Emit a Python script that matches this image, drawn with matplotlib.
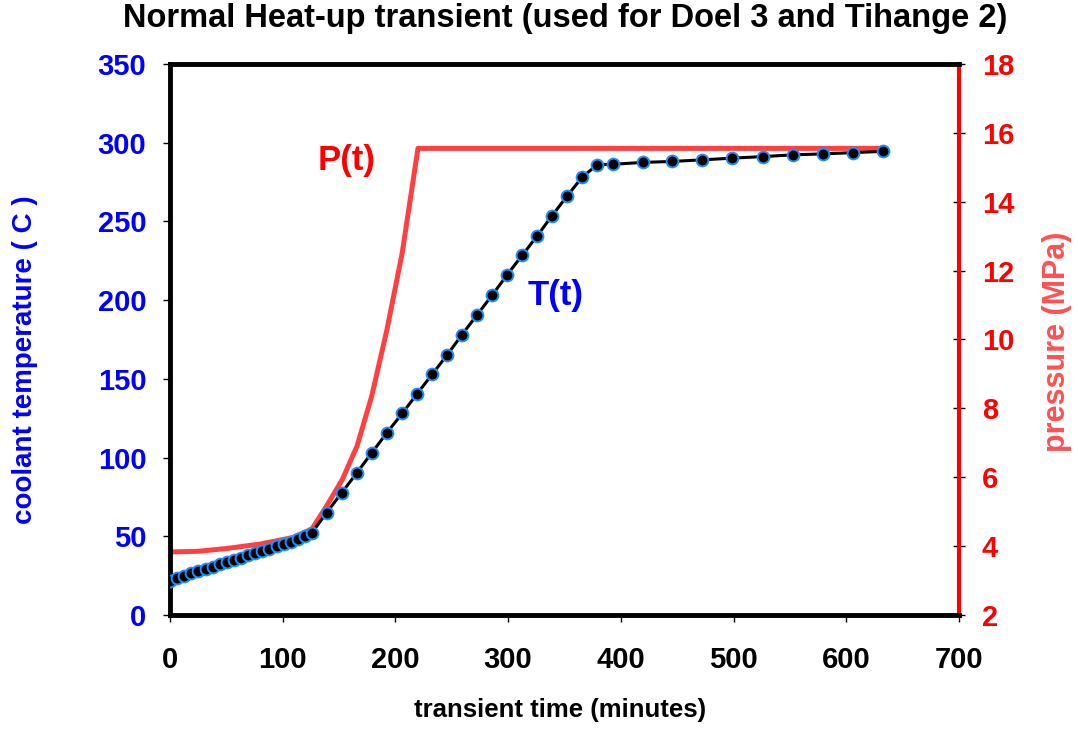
import matplotlib
matplotlib.use("Agg")
import matplotlib.pyplot as plt

# ---------------- data ----------------
t_temp = [0, 6.3, 12.6, 18.9, 25.2, 31.5, 37.8, 44.1, 50.4, 56.7, 63.0, 69.3,
          75.6, 81.9, 88.2, 94.5, 100.8, 107.1, 113.4, 119.7, 125.7,
          139, 152.5, 166, 179, 192.5, 206, 219, 232.5, 246, 259, 272.5, 286,
          299, 312.5, 326, 339, 352.5, 365.6, 378.9, 393.1, 419.7, 445.4, 472,
          498.7, 526.2, 552.8, 579.4, 606, 632.7]
temp = [21.5, 23.5, 24.7, 26.4, 27.9, 29.4, 30.7, 32.2, 33.6, 35.0, 36.5, 37.9,
        39.2, 40.7, 42.2, 43.9, 44.9, 46.4, 48.3, 50.0, 52.0,
        65.0, 77.8, 90.5, 103.0, 115.8, 128.0, 140.3, 152.8, 165.3, 178.0, 190.7, 203.3,
        216.0, 228.5, 241.0, 253.7, 266.3, 278.0, 286.0, 286.3, 287.5, 288.1, 289.1,
        290.2, 291.2, 292.3, 292.9, 293.7, 294.5]

t_press = [0, 25, 50, 80, 109, 126, 139, 153, 166, 179, 192.5, 206, 220, 633]
press = [3.83, 3.85, 3.93, 4.06, 4.25, 4.50, 5.17, 5.94, 6.91, 8.36, 10.29, 12.51, 15.55, 15.55]

x_ticks = [0, 100, 200, 300, 400, 500, 600, 700]
yl_ticks = [0, 50, 100, 150, 200, 250, 300, 350]
yr_ticks = [2, 4, 6, 8, 10, 12, 14, 16, 18]

# ---------------- style ----------------
plt.rcParams['font.family'] = ['Liberation Sans', 'DejaVu Sans']
plt.rcParams['font.weight'] = 'bold'

W, H = 1078, 729
fig = plt.figure(figsize=(W / 100, H / 100), dpi=100)
ax = fig.add_axes([0.1577, 0.1564, 0.8896 - 0.1577, 0.9122 - 0.1564])
ax2 = ax.twinx()

ax.plot(t_temp, temp, color='black', lw=2.2, marker='o', markersize=8.5,
        markerfacecolor='black', markeredgecolor='#1E90FF', markeredgewidth=1.4, zorder=3)
ax2.plot(t_press, press, color='#FF4040', lw=3.6, zorder=2)

ax.set_xlim(0, 700)
ax.set_ylim(0, 350)
ax2.set_ylim(2, 18)
ax.set_xticks(x_ticks)
ax.set_yticks(yl_ticks)
ax2.set_yticks(yr_ticks)

ax.set_zorder(ax2.get_zorder() + 1)
ax.patch.set_visible(False)

for s in ['left', 'top', 'bottom']:
    ax.spines[s].set_linewidth(3.5)
    ax.spines[s].set_color('black')
ax.spines['right'].set_visible(False)
for s in ['left', 'top', 'bottom']:
    ax2.spines[s].set_visible(False)
ax2.spines['right'].set_color('#FF0000')
ax2.spines['right'].set_linewidth(3.0)

ax.tick_params(axis='x', direction='out', length=5, width=1, pad=17,
               labelsize=21, labelcolor='black')
ax.tick_params(axis='y', direction='out', length=5, width=1, pad=12,
               labelsize=21, labelcolor='#0000FF')
ax2.tick_params(axis='y', direction='inout', length=9, width=1, pad=12,
                labelsize=21, labelcolor='#FF0000', color='black')

for lab in ax.get_xticklabels() + ax.get_yticklabels() + ax2.get_yticklabels():
    lab.set_fontweight('bold')

fig.text(560 / W, 1 - 710 / H, 'transient time (minutes)', fontsize=18.5,
         fontweight='bold', ha='center', va='center')
fig.text(25 / W, 1 - 360 / H, 'coolant temperature ( C )', fontsize=20,
         fontweight='bold', color='#0000FF', rotation=90, ha='center', va='center')
fig.text(1057 / W, 1 - 342 / H, 'pressure (MPa)', fontsize=22,
         fontweight='bold', color='#FF5050', rotation=90, ha='center', va='center')
fig.text(565 / W, 1 - 18 / H, 'Normal Heat-up transient (used for Doel 3 and Tihange 2)',
         fontsize=23.5, fontweight='bold', ha='center', va='center')

ax.text(157, 289, 'P(t)', color='#FF0000', fontsize=25, fontweight='bold',
        ha='center', va='center')
ax.text(342, 203, 'T(t)', color='#0000FF', fontsize=25, fontweight='bold',
        ha='center', va='center')

fig.savefig('out.png', dpi=100)
